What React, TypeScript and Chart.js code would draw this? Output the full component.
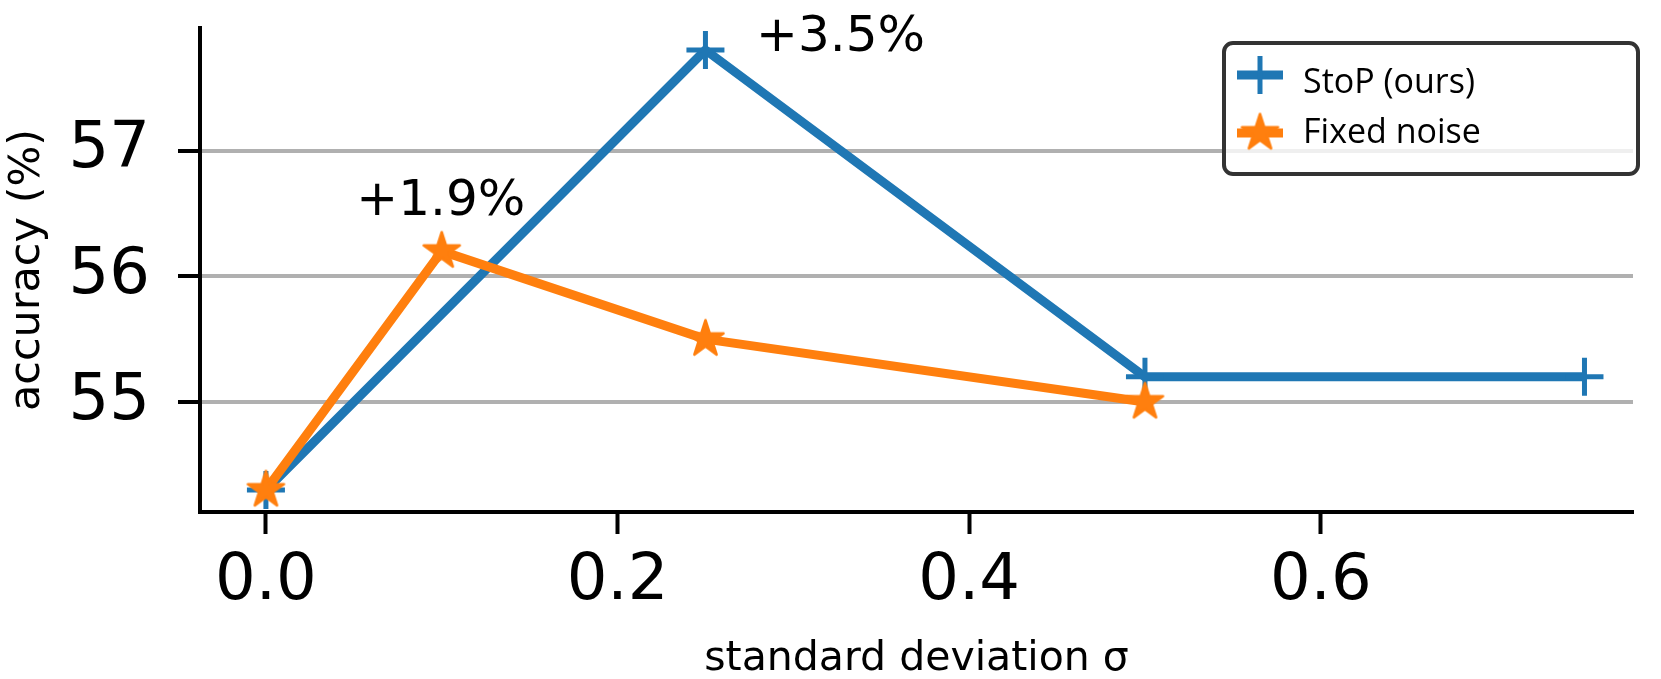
import React, { useEffect, useRef } from 'react';
import { Chart, registerables } from 'chart.js';

Chart.register(...registerables);

// ---- data ----
const STOP_X = [0, 0.25, 0.5, 0.75];
const STOP_Y = [54.3, 57.8, 55.2, 55.2];
const FIXED_X = [0, 0.1, 0.25, 0.5];
const FIXED_Y = [54.3, 56.2, 55.5, 55.0];
const X_TICKS = [0, 0.2, 0.4, 0.6];
const Y_TICKS = [55, 56, 57];
const SERIES_LABELS = ['StoP (ours)', 'Fixed noise'];
const ANNOT_TEXT = ['+1.9%', '+3.5%'];
const ANNOT_X = [0.0514, 0.2788];
const ANNOT_Y = [56.49, 57.795];
const X_TITLE = 'standard deviation σ';
const Y_TITLE = 'accuracy (%)';

const BLUE = '#1f77b4';
const ORANGE = '#ff7f0e';
const W = 1661;
const H = 679;

function makeStar(color: string, R: number, lw: number): HTMLCanvasElement {
  const size = Math.ceil(2 * R + lw + 4);
  const c = document.createElement('canvas');
  c.width = size;
  c.height = size;
  const ctx = c.getContext('2d')!;
  const cx = size / 2;
  const cy = size / 2;
  ctx.beginPath();
  for (let i = 0; i < 10; i++) {
    const r = i % 2 === 0 ? R : R * 0.381966;
    const a = -Math.PI / 2 + (i * Math.PI) / 5;
    const x = cx + r * Math.cos(a);
    const y = cy + r * Math.sin(a);
    if (i === 0) ctx.moveTo(x, y);
    else ctx.lineTo(x, y);
  }
  ctx.closePath();
  ctx.fillStyle = color;
  ctx.fill();
  ctx.lineJoin = 'round';
  ctx.lineWidth = lw;
  ctx.strokeStyle = color;
  ctx.stroke();
  return c;
}

export default function App() {
  const ref = useRef<HTMLCanvasElement | null>(null);

  useEffect(() => {
    document.body.style.margin = '0';
    const canvas = ref.current!;
    const star = makeStar(ORANGE, 19, 2.5);

    const annotPlugin = {
      id: 'annotations',
      afterDatasetsDraw(chart: any) {
        const { ctx, scales } = chart;
        ctx.save();
        ctx.font = '50px "DejaVu Sans"';
        ctx.fillStyle = '#000';
        ctx.textAlign = 'left';
        ctx.textBaseline = 'alphabetic';
        ANNOT_TEXT.forEach((t, i) => {
          ctx.fillText(t, scales.x.getPixelForValue(ANNOT_X[i]), scales.y.getPixelForValue(ANNOT_Y[i]));
        });
        ctx.restore();
      },
    };

    const legendPlugin = {
      id: 'boxLegend',
      afterDraw(chart: any) {
        const { ctx } = chart;
        ctx.save();
        const bx = 1224, by = 43, bw = 414, bh = 131;
        ctx.beginPath();
        (ctx as any).roundRect(bx, by, bw, bh, 9);
        ctx.fillStyle = 'rgba(255,255,255,0.8)';
        ctx.fill();
        ctx.lineWidth = 4;
        ctx.strokeStyle = '#333333';
        ctx.stroke();

        const hx1 = 1237, hx2 = 1283, hcx = 1260;
        const rows = [75, 133];
        ctx.lineCap = 'butt';
        ctx.strokeStyle = BLUE;
        ctx.lineWidth = 9;
        ctx.beginPath();
        ctx.moveTo(hx1, rows[0]);
        ctx.lineTo(hx2, rows[0]);
        ctx.stroke();
        ctx.lineWidth = 5;
        ctx.beginPath();
        ctx.moveTo(hcx, rows[0] - 19);
        ctx.lineTo(hcx, rows[0] + 19);
        ctx.stroke();
        ctx.strokeStyle = ORANGE;
        ctx.lineWidth = 9;
        ctx.beginPath();
        ctx.moveTo(hx1, rows[1]);
        ctx.lineTo(hx2, rows[1]);
        ctx.stroke();
        ctx.drawImage(star, hcx - star.width / 2, rows[1] - star.height / 2);

        ctx.fillStyle = '#000';
        ctx.font = '34px "Open Sans"';
        ctx.textAlign = 'left';
        ctx.textBaseline = 'alphabetic';
        ctx.fillText(SERIES_LABELS[0], 1303, 93);
        ctx.fillText(SERIES_LABELS[1], 1303, 143);
        ctx.restore();
      },
    };

    const chart = new Chart(canvas, {
      type: 'line',
      data: {
        datasets: [
          {
            label: SERIES_LABELS[0],
            data: STOP_X.map((x, i) => ({ x, y: STOP_Y[i] })),
            borderColor: BLUE,
            backgroundColor: BLUE,
            borderWidth: 9,
            borderJoinStyle: 'round',
            pointStyle: 'cross',
            pointRadius: 19,
            pointBorderWidth: 5,
            pointBorderColor: BLUE,
            pointBackgroundColor: BLUE,
            tension: 0,
            fill: false,
            order: 2,
          },
          {
            label: SERIES_LABELS[1],
            data: FIXED_X.map((x, i) => ({ x, y: FIXED_Y[i] })),
            borderColor: ORANGE,
            backgroundColor: ORANGE,
            borderWidth: 9,
            borderJoinStyle: 'round',
            pointStyle: star as any,
            pointRadius: 19,
            tension: 0,
            fill: false,
            order: 1,
          },
        ],
      },
      options: {
        animation: false,
        responsive: false,
        devicePixelRatio: 1,
        events: [],
        layout: { padding: { top: 24, right: 2, left: 0, bottom: 0 } },
        plugins: {
          legend: { display: false },
          tooltip: { enabled: false },
          title: { display: false },
        },
        scales: {
          x: {
            type: 'linear',
            min: -0.0375,
            max: 0.7776,
            afterBuildTicks: (s: any) => {
              s.ticks = X_TICKS.map((v) => ({ value: v }));
            },
            afterFit: (s: any) => {
              s.height = 167;
              s.paddingLeft = 0;
              s.paddingRight = 0;
              s.paddingTop = 0;
              s.paddingBottom = 0;
            },
            grid: {
              drawOnChartArea: false,
              drawTicks: true,
              tickLength: 22,
              tickWidth: 4,
              tickColor: '#000',
            },
            border: { display: true, color: '#000', width: 4 },
            ticks: {
              autoSkip: false,
              maxRotation: 0,
              padding: 10,
              color: '#000',
              font: { family: 'DejaVu Sans', size: 64 },
              callback: (v: any) => Number(v).toFixed(1),
            },
            title: {
              display: true,
              text: X_TITLE,
              color: '#000',
              font: { family: 'DejaVu Sans', size: 41 },
              padding: { top: 0, bottom: -5 },
            },
          },
          y: {
            type: 'linear',
            min: 54.125,
            max: 57.975,
            afterBuildTicks: (s: any) => {
              s.ticks = Y_TICKS.map((v) => ({ value: v }));
            },
            afterFit: (s: any) => {
              s.width = 200;
              s.paddingLeft = 0;
              s.paddingRight = 0;
              s.paddingTop = 0;
              s.paddingBottom = 0;
            },
            grid: {
              color: '#b0b0b0',
              lineWidth: 4,
              drawTicks: true,
              tickLength: 22,
              tickWidth: 4,
              tickColor: '#000',
            },
            border: { display: true, color: '#000', width: 4 },
            ticks: {
              autoSkip: false,
              padding: 28,
              color: '#000',
              font: { family: 'DejaVu Sans', size: 64 },
              callback: (v: any) => String(v),
            },
            title: {
              display: true,
              text: Y_TITLE,
              color: '#000',
              font: { family: 'DejaVu Sans', size: 43 },
              padding: { top: 2, bottom: 0 },
            },
          },
        },
      },
      plugins: [annotPlugin, legendPlugin],
    } as any);

    return () => {
      chart.destroy();
    };
  }, []);

  return (
    <div style={{ width: W, height: H, background: '#fff' }}>
      <canvas ref={ref} width={W} height={H} style={{ width: W, height: H, display: 'block' }} />
    </div>
  );
}
